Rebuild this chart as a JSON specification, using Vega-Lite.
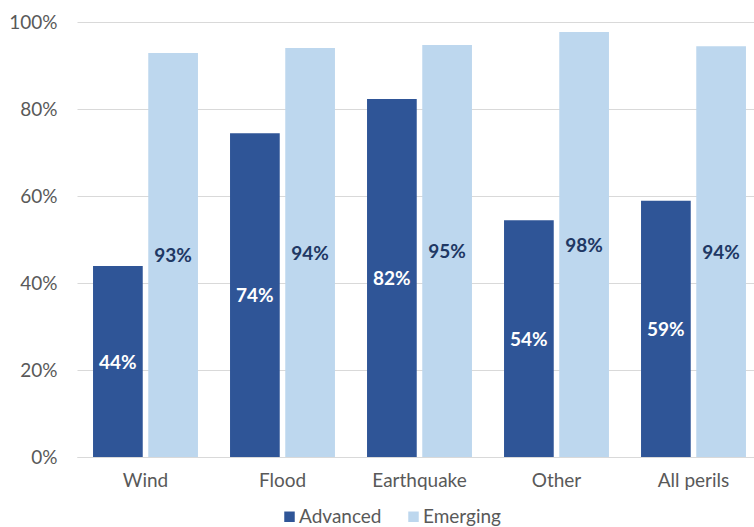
{
  "$schema": "https://vega.github.io/schema/vega-lite/v6.json",
  "width": 685,
  "height": 435,
  "autosize": {"type": "none"},
  "padding": {"left": 77, "top": 22, "right": 0, "bottom": 70},
  "background": "white",
  "config": {
    "view": {"stroke": null},
    "font": "Lato",
    "axis": {"labelFont": "Lato", "labelFontSize": 19, "labelColor": "#595959", "gridColor": "#D9D9D9", "domainColor": "#D9D9D9", "ticks": false, "title": null, "labelOverlap": false},
    "legend": {"labelFont": "Lato", "labelFontSize": 19, "labelColor": "#595959"}
  },
  "data": {
    "values": [
      {"peril": "Wind", "group": "Advanced", "value": 0.439},
      {"peril": "Wind", "group": "Emerging", "value": 0.929},
      {"peril": "Flood", "group": "Advanced", "value": 0.744},
      {"peril": "Flood", "group": "Emerging", "value": 0.940},
      {"peril": "Earthquake", "group": "Advanced", "value": 0.823},
      {"peril": "Earthquake", "group": "Emerging", "value": 0.947},
      {"peril": "Other", "group": "Advanced", "value": 0.544},
      {"peril": "Other", "group": "Emerging", "value": 0.977},
      {"peril": "All perils", "group": "Advanced", "value": 0.589},
      {"peril": "All perils", "group": "Emerging", "value": 0.944}
    ]
  },
  "encoding": {
    "x": {"field": "peril", "type": "nominal", "sort": null,
      "scale": {"paddingInner": 0.234, "paddingOuter": 0.117},
      "axis": {"labelAngle": 0, "labelPadding": 14, "domain": true, "grid": false}},
    "xOffset": {"field": "group", "type": "nominal", "scale": {"paddingInner": 0.1, "paddingOuter": 0}}
  },
  "layer": [
    {
      "mark": {"type": "bar"},
      "encoding": {
        "y": {"field": "value", "type": "quantitative", "scale": {"domain": [0, 1], "nice": false},
          "axis": {"format": ".0%", "values": [0, 0.2, 0.4, 0.6, 0.8, 1], "labelPadding": 20, "domain": false, "grid": true}},
        "color": {"field": "group", "type": "nominal",
          "scale": {"domain": ["Advanced", "Emerging"], "range": ["#2F5597", "#BDD7EE"]},
          "legend": {"title": null, "orient": "none", "direction": "horizontal", "legendX": 203, "legendY": 485,
            "symbolType": "square", "symbolSize": 110, "symbolStrokeWidth": 0, "labelOffset": 0, "columnPadding": 22, "padding": 0}}
      }
    },
    {
      "mark": {"type": "text", "fontWeight": "bold", "fontSize": 19, "font": "Lato", "baseline": "middle", "dy": 1},
      "encoding": {
        "y": {"field": "value", "type": "quantitative", "scale": {"domain": [0, 2], "nice": false}, "axis": null},
        "text": {"field": "value", "type": "quantitative", "format": ".0%"},
        "color": {"field": "group", "type": "nominal",
          "scale": {"domain": ["Advanced", "Emerging"], "range": ["#FFFFFF", "#1F3864"]}, "legend": null}
      }
    }
  ],
  "resolve": {"scale": {"color": "independent", "y": "independent"}}
}
